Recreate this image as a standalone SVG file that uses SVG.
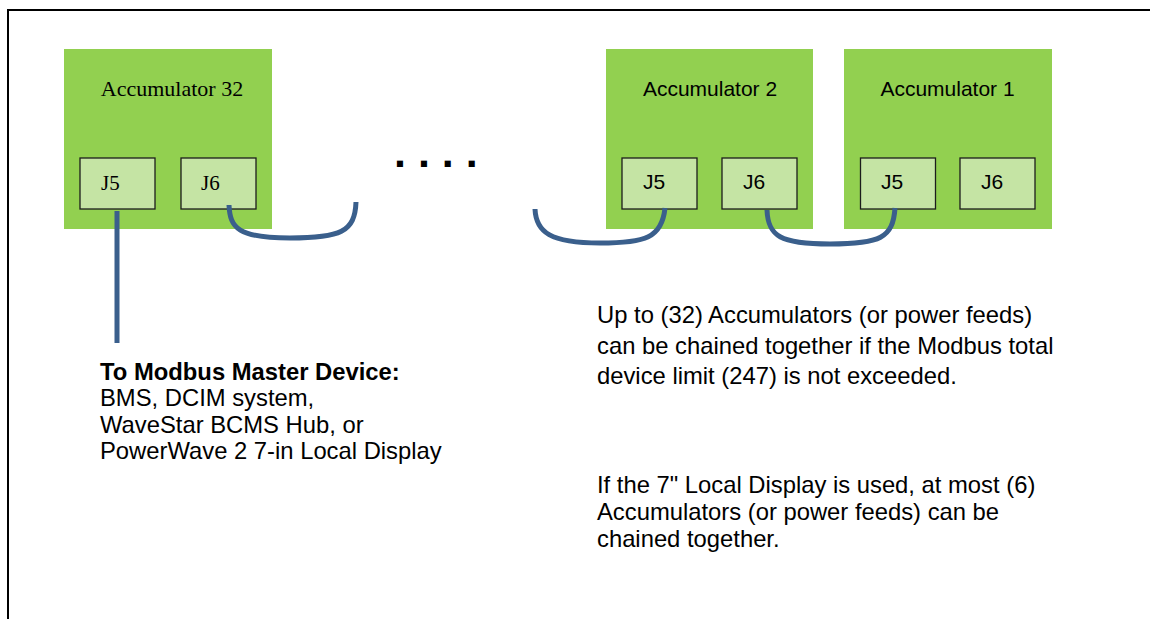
<svg xmlns="http://www.w3.org/2000/svg" width="1150" height="619" viewBox="0 0 1150 619">
  <style>
    .unit { fill: #92D050; }
    .port { fill: #C5E4A4; stroke: #1c1c1c; stroke-width: 1.3; }
    .title { font-family: "Liberation Sans", Arial, sans-serif; font-size: 21px; fill: #000; text-anchor: middle; }
    .title-serif { font-family: "Liberation Serif", "Times New Roman", serif; font-size: 22px; fill: #000; text-anchor: middle; }
    .plabel { font-family: "Liberation Sans", Arial, sans-serif; font-size: 21px; fill: #000; }
    .plabel-serif { font-family: "Liberation Serif", "Times New Roman", serif; font-size: 21px; fill: #000; }
    .note { font-family: "Liberation Sans", Arial, sans-serif; font-size: 23.8px; fill: #000; }
    .bold { font-weight: bold; }
    .cable { fill: none; stroke: #3A5F8C; stroke-width: 5; stroke-linecap: butt; }
  </style>

  <rect x="0" y="0" width="1150" height="619" fill="#ffffff"/>
  <!-- frame, running past the right and bottom edges -->
  <rect x="8" y="10" width="1200" height="700" fill="none" stroke="#000" stroke-width="2"/>

  <!-- Accumulator 32 -->
  <g id="acc32">
    <rect class="unit" x="64" y="49" width="208" height="180"/>
    <text class="title-serif" x="172" y="96">Accumulator 32</text>
    <g id="acc32-j5">
      <rect class="port" x="80" y="158" width="75" height="51"/>
      <text class="plabel-serif" x="101" y="190">J5</text>
    </g>
    <g id="acc32-j6">
      <rect class="port" x="181" y="158" width="75" height="51"/>
      <text class="plabel-serif" x="201" y="190">J6</text>
    </g>
  </g>

  <!-- Accumulator 2 -->
  <g id="acc2">
    <rect class="unit" x="606" y="49" width="207" height="180"/>
    <text class="title" x="710" y="96">Accumulator 2</text>
    <g id="acc2-j5">
      <rect class="port" x="622" y="158" width="75" height="51"/>
      <text class="plabel" x="643" y="189">J5</text>
    </g>
    <g id="acc2-j6">
      <rect class="port" x="722" y="158" width="75" height="51"/>
      <text class="plabel" x="743" y="189">J6</text>
    </g>
  </g>

  <!-- Accumulator 1 -->
  <g id="acc1">
    <rect class="unit" x="844" y="49" width="208" height="180"/>
    <text class="title" x="947.5" y="96">Accumulator 1</text>
    <g id="acc1-j5">
      <rect class="port" x="860.5" y="158" width="75" height="51"/>
      <text class="plabel" x="881" y="189">J5</text>
    </g>
    <g id="acc1-j6">
      <rect class="port" x="960" y="158" width="75" height="51"/>
      <text class="plabel" x="981" y="189">J6</text>
    </g>
  </g>

  <!-- ellipsis between the units -->
  <text id="ellipsis" x="394" y="167" font-family="Liberation Sans, Arial, sans-serif" font-size="43" font-weight="bold" fill="#000">. . . .</text>

  <!-- daisy-chain cables -->
  <g id="cables">
    <path class="cable" d="M117,211 L117,343"/>
    <path class="cable" d="M229,205 C230,228 238,238 290,238 C340,238 355,232 356,202"/>
    <path class="cable" d="M535,209 C536,232 550,243 600,243 C645,243 662,238 665,208"/>
    <path class="cable" d="M767,210 C768,236 780,244 830,244 C880,244 893,238 895,208"/>
  </g>

  <!-- master device note -->
  <g id="master-note">
    <text class="note bold" x="100" y="380">To Modbus Master Device:</text>
    <text class="note" x="100" y="406.3">BMS, DCIM system,</text>
    <text class="note" x="100" y="432.7">WaveStar BCMS Hub, or</text>
    <text class="note" x="100" y="459">PowerWave 2 7-in Local Display</text>
  </g>

  <!-- chain limits -->
  <g id="limit-note">
    <text class="note" x="597" y="323.3">Up to (32) Accumulators (or power feeds)</text>
    <text class="note" x="597" y="353.8">can be chained together if the Modbus total</text>
    <text class="note" x="597" y="384.3">device limit (247) is not exceeded.</text>
  </g>
  <g id="display-note">
    <text class="note" x="597" y="493.3">If the 7" Local Display is used, at most (6)</text>
    <text class="note" x="597" y="520">Accumulators (or power feeds) can be</text>
    <text class="note" x="597" y="546.7">chained together.</text>
  </g>
</svg>
